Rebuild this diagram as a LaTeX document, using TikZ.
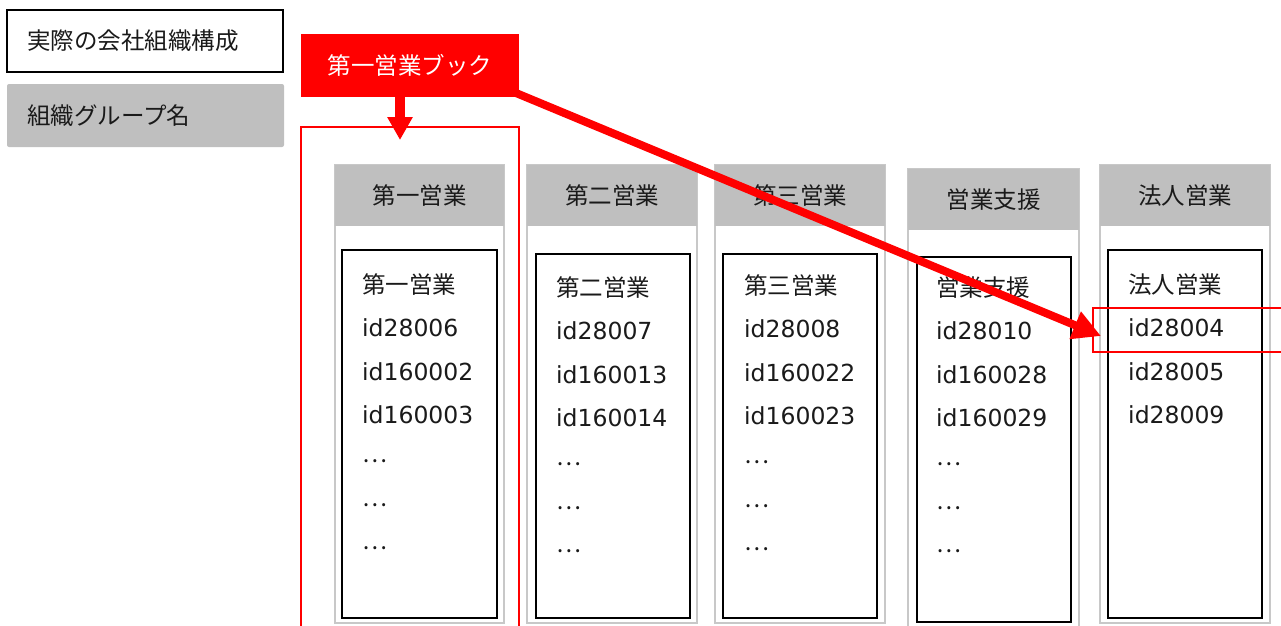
\documentclass[tikz,border=0pt]{standalone}
\usepackage{fontspec}
\setmainfont{DejaVu Sans}
\newfontfamily\jp{Noto Sans CJK JP}
\usetikzlibrary{arrows.meta}
\definecolor{hdr}{HTML}{BFBFBF}
\definecolor{frm}{HTML}{C8C8C8}
\definecolor{myred}{HTML}{FF0000}
\definecolor{ink}{HTML}{1A1A1A}
\newcommand\mycollines[4]{%
  \foreach \s [count=\k] in {#4} {
    \node[txt, anchor=base west] (t#1-\k) at (#2, {#3+43.3*(\k-1)}) {\s};
  }%
}
\newcommand\mydots{\raisebox{4pt}{\jp …}}
\begin{document}
\begin{tikzpicture}[x=1pt,y=-1pt,
  txt/.style={font=\fontsize{23.5}{28}\selectfont, inner sep=0pt, text=ink},
  box/.style={anchor=north west, inner sep=0pt, outer sep=0pt},
]
\useasboundingbox (0,0) rectangle (1281,625);
\clip (0,0) rectangle (1281,625);

% legend
\node[box, draw=black, line width=2pt, minimum width=276pt, minimum height=62pt] (leg1) at (7,10) {};
\node[txt, anchor=west] (leg1t) at ([xshift=20pt]leg1.west) {\jp 実際の会社組織構成};
\node[box, fill=hdr, rounded corners=2pt, minimum width=277pt, minimum height=63pt] (leg2) at (7,84) {};
\node[txt, anchor=west] (leg2t) at ([xshift=20pt]leg2.west) {\jp 組織グループ名};

% book label and frame
\node[box, fill=myred, minimum width=218pt, minimum height=63pt] (book) at (301,34) {};
\node[txt, text=white] (bookt) at (book.center) {\jp 第一営業ブック};
\node[box, draw=myred, line width=2.2pt, minimum width=218pt, minimum height=530pt] (bookframe) at (301,127) {};

% columns
\foreach \cn/\cxl/\cxr/\cyt/\ixl/\ixr/\iyt/\iyb/\cyb/\clab in {
  1/335/504/165/342/497/250/618/623/第一営業,
  2/527/697/165/536/690/254/618/623/第二営業,
  3/715/885/165/723/877/254/618/623/第三営業,
  4/908/1079/169/917/1071/257/622/640/営業支援,
  5/1100/1270/165/1108/1262/250/618/623/法人営業} {
  \pgfmathsetmacro\cw{\cxr-\cxl}
  \pgfmathsetmacro\ch{\cyb-\cyt}
  \pgfmathsetmacro\iw{\ixr-\ixl}
  \pgfmathsetmacro\ih{\iyb-\iyt}
  \node[box, draw=frm, line width=1.8pt, minimum width=\cw pt, minimum height=\ch pt] (col\cn) at (\cxl,\cyt) {};
  \node[box, fill=hdr, minimum width=\cw pt, minimum height=61pt] (hdr\cn) at (\cxl,\cyt) {};
  \node[txt] (hl\cn) at (hdr\cn.center) {\jp \clab};
  \node[box, draw=black, line width=2pt, minimum width=\iw pt, minimum height=\ih pt] (in\cn) at (\ixl,\iyt) {};
}

\mycollines{1}{362}{293.5}{{\jp 第一営業},id28006,id160002,id160003,\mydots,\mydots,\mydots}
\mycollines{2}{556}{296.5}{{\jp 第二営業},id28007,id160013,id160014,\mydots,\mydots,\mydots}
\mycollines{3}{744}{294.5}{{\jp 第三営業},id28008,id160022,id160023,\mydots,\mydots,\mydots}
\mycollines{4}{936}{296.5}{{\jp 営業支援},id28010,id160028,id160029,\mydots,\mydots,\mydots}
\mycollines{5}{1128}{293.5}{{\jp 法人営業},id28004,id28005,id28009}

% highlight
\node[box, draw=myred, line width=2.2pt, minimum width=200pt, minimum height=44pt] (hlt) at (1093,308) {};
\coordinate (tip) at ([xshift=8pt, yshift=-28pt]hlt.north west);

% arrows
\draw[myred, line width=10pt, -{Triangle[width=24pt,length=23pt]}]
  ([xshift=-10pt]book.south) -- ([xshift=-10pt, yshift=-13pt]bookframe.north);
\draw[myred, line width=8pt, -{Triangle[width=28pt,length=28pt]}]
  ([xshift=-3pt, yshift=4pt]book.south east) -- (tip);
\end{tikzpicture}
\end{document}
